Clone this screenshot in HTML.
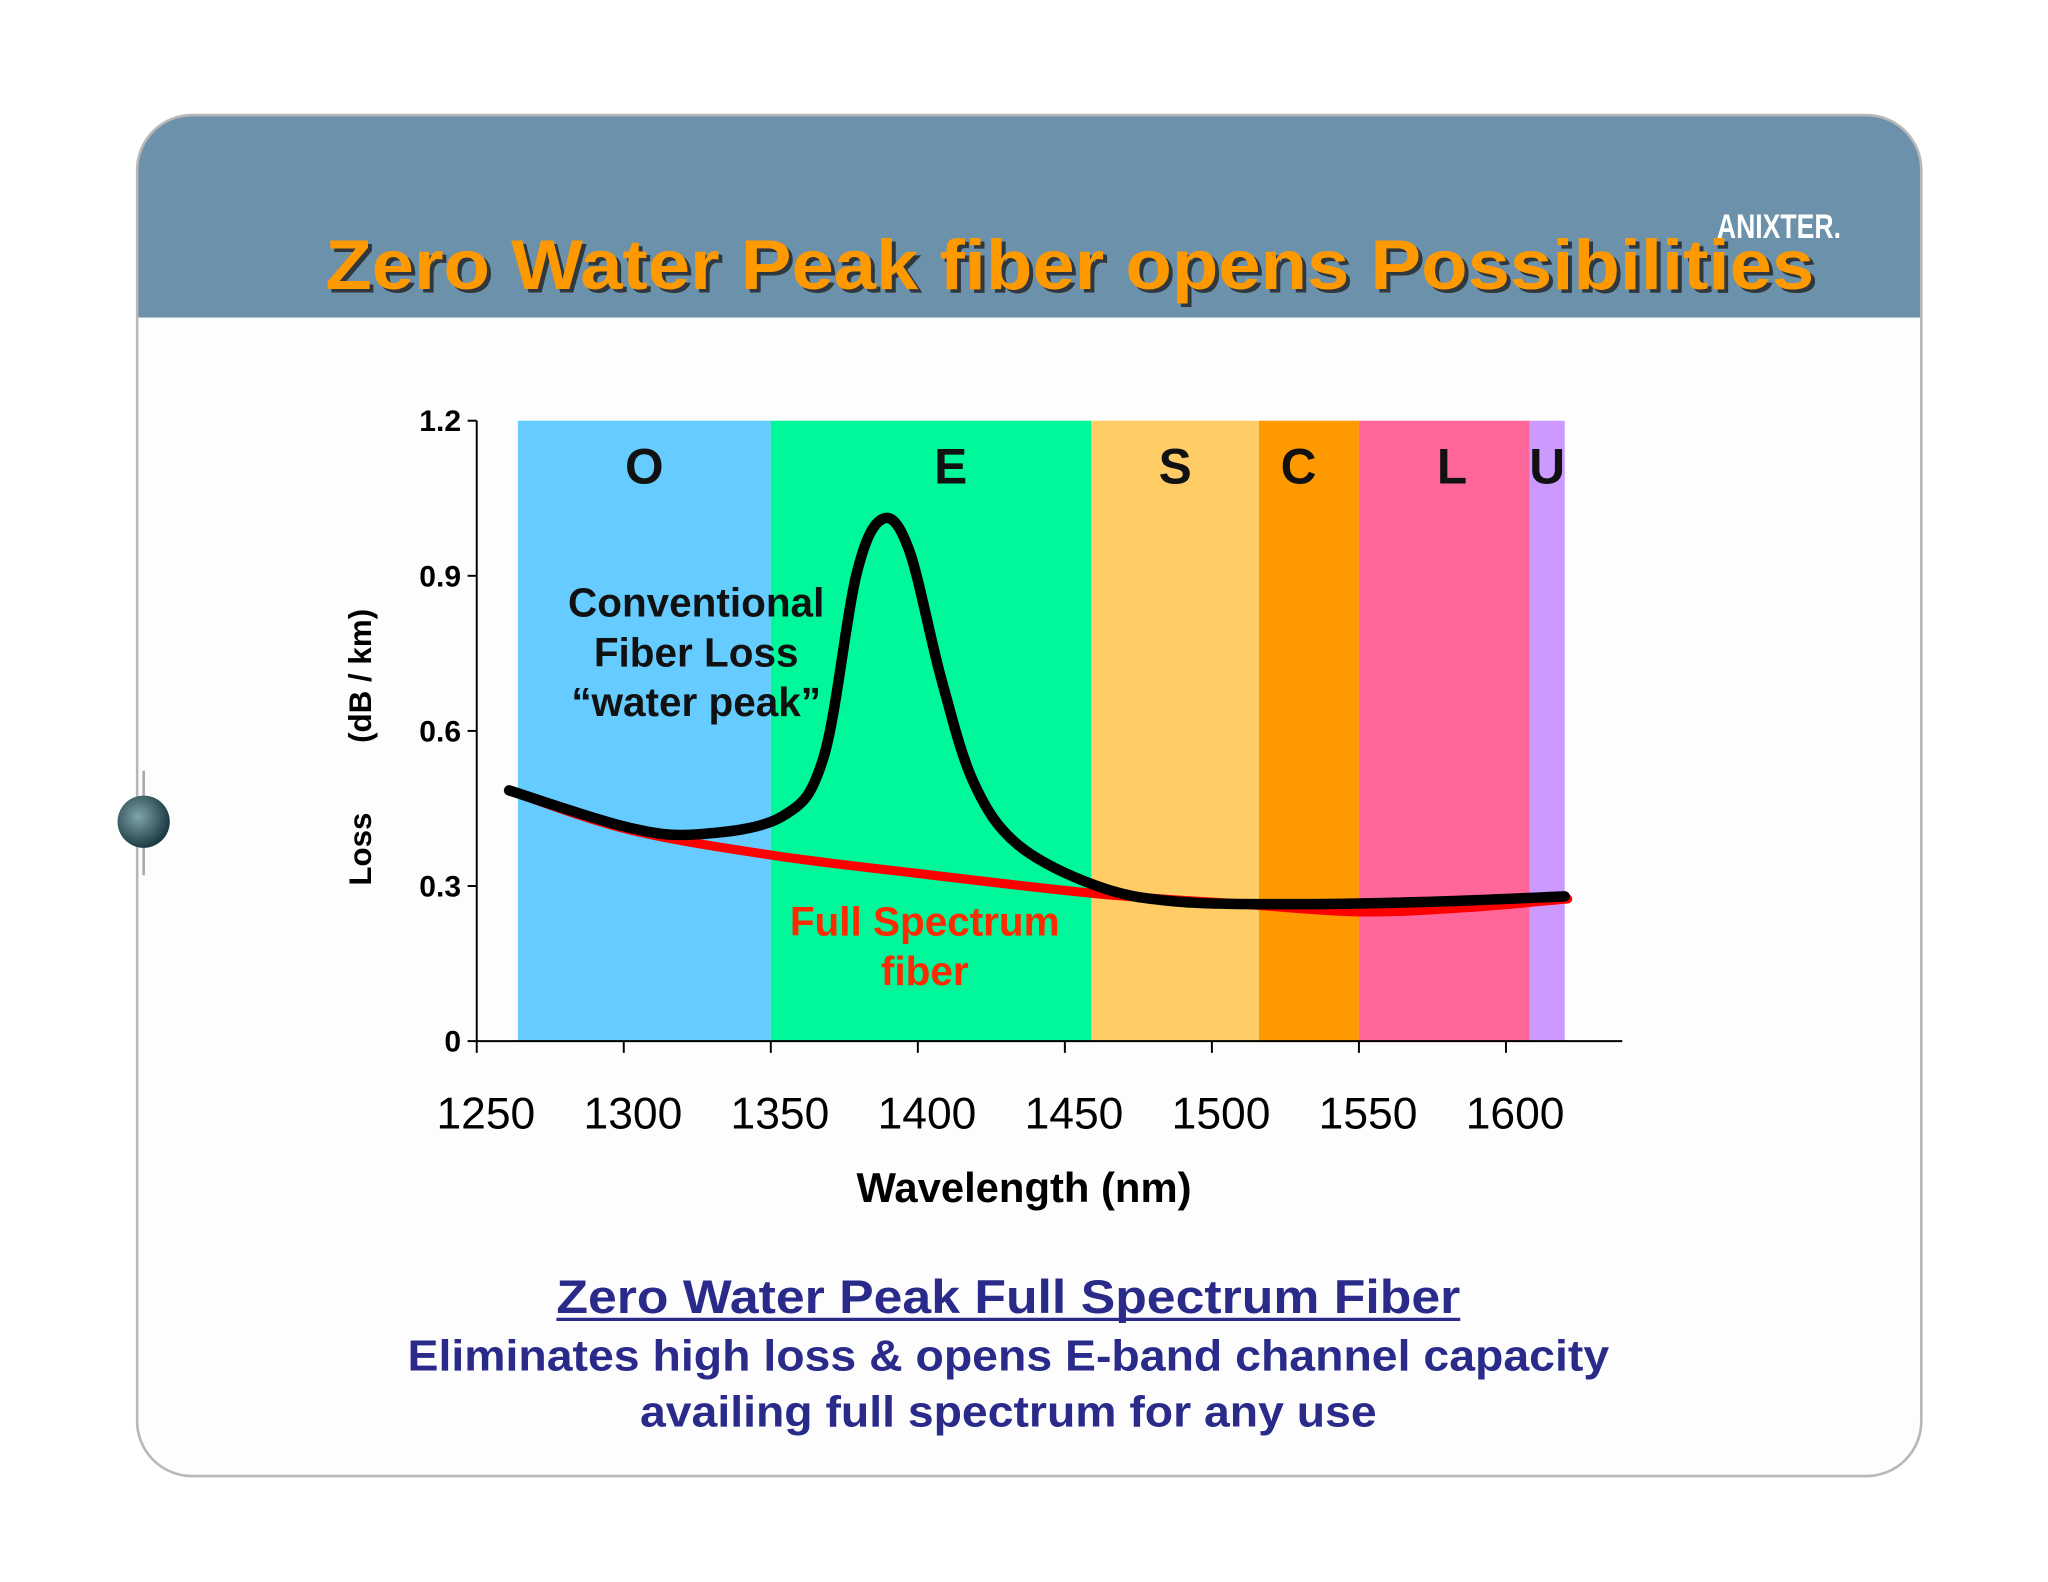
<!DOCTYPE html>
<html><head><meta charset="utf-8"><style>html,body{margin:0;padding:0;background:#fff}svg{display:block}</style></head>
<body>
<svg width="2048" height="1582" viewBox="0 0 1568 1211" xmlns="http://www.w3.org/2000/svg" font-family="Liberation Sans, sans-serif">
<defs><clipPath id="card"><rect x="105" y="88" width="1366" height="1042" rx="42"/></clipPath>
<radialGradient id="globe" cx="0.4" cy="0.4" r="0.6"><stop offset="0" stop-color="#7fa6a8"/><stop offset="1" stop-color="#1d3b44"/></radialGradient></defs>
<rect width="1568" height="1211" fill="#ffffff"/>
<g clip-path="url(#card)">
<rect x="105" y="88" width="1366" height="1042" fill="#fdfdfd"/>
<rect x="105" y="88" width="1366" height="155" fill="#6b91ab"/>
</g>
<rect x="105" y="88" width="1366" height="1042" rx="42" fill="none" stroke="#b8b8b8" stroke-width="2"/>
<line x1="110" y1="590" x2="110" y2="670" stroke="#aaa" stroke-width="2"/>
<circle cx="110" cy="629" r="20" fill="url(#globe)"/>
<text x="1362" y="182" fill="#fff" font-size="26" font-weight="bold" text-anchor="middle" textLength="95" lengthAdjust="spacingAndGlyphs">ANIXTER.</text>
<text x="822" y="224" fill="#222" font-size="54" font-weight="bold" text-anchor="middle" textLength="1140" lengthAdjust="spacingAndGlyphs" opacity="0.8">Zero Water Peak fiber opens Possibilities</text>
<text x="819" y="221" fill="#ff9900" font-size="54" font-weight="bold" text-anchor="middle" textLength="1140" lengthAdjust="spacingAndGlyphs">Zero Water Peak fiber opens Possibilities</text>
<g id="chart"></g>
<text x="772" y="1005" fill="#2a2a8a" font-size="36" font-weight="bold" text-anchor="middle" textLength="692" lengthAdjust="spacingAndGlyphs">Zero Water Peak Full Spectrum Fiber</text>
<line x1="426" y1="1010" x2="1118" y2="1010" stroke="#2a2a8a" stroke-width="2.5"/>
<text x="772" y="1049" fill="#2a2a8a" font-size="33" font-weight="bold" text-anchor="middle" textLength="920" lengthAdjust="spacingAndGlyphs">Eliminates high loss &amp; opens E-band channel capacity</text>
<text x="772" y="1092" fill="#2a2a8a" font-size="33" font-weight="bold" text-anchor="middle" textLength="564" lengthAdjust="spacingAndGlyphs">availing full spectrum for any use</text>
</svg>
<script>
const bandNames=["O","E","S","C","L","U"];
const bandStart=[1264,1350,1459,1516,1550,1608];
const bandEnd=[1350,1459,1516,1550,1608,1620];
const bandColors=["#66ccff","#00f79a","#ffcc66","#ff9900","#ff6699","#cc99ff"];
const xTicks=[1250,1300,1350,1400,1450,1500,1550,1600];
const yTicks=[0,0.3,0.6,0.9,1.2];
const yTickLabels=["0","0.3","0.6","0.9","1.2"];
const convWl=[1261,1301,1325,1354,1368,1379,1388,1397,1408,1419,1434,1461,1488,1532,1577,1620];
const convLoss=[0.485,0.414,0.40,0.435,0.55,0.90,1.01,0.95,0.70,0.50,0.38,0.30,0.27,0.265,0.27,0.28];
const fullWl=[1261,1301,1350,1399,1461,1510,1550,1586,1621];
const fullLoss=[0.485,0.41,0.36,0.325,0.285,0.265,0.25,0.258,0.275];
const NS="http://www.w3.org/2000/svg";
const g=document.getElementById('chart');
const X=v=>365+(v-1250)*(788/350);
const Y=v=>797-v*(475/1.2);
function mk(tag,attrs,parent){const e=document.createElementNS(NS,tag);for(const k in attrs)e.setAttribute(k,attrs[k]);(parent||g).appendChild(e);return e;}
bandNames.forEach((n,i)=>{
 const r=mk('rect',{x:X(bandStart[i]),y:Y(1.2),width:X(bandEnd[i])-X(bandStart[i]),height:Y(0)-Y(1.2),fill:bandColors[i]});
 
 
});
const labelShift=[0,15,0,-8,6,0];
bandNames.forEach((n,i)=>{
 const cx=(X(bandStart[i])+X(bandEnd[i]))/2+labelShift[i];
 const t=mk('text',{x:cx,y:370,'font-size':38,'font-weight':'bold','text-anchor':'middle',fill:'#111'});t.textContent=n;
 
 
});
mk('line',{x1:365,y1:Y(1.2),x2:365,y2:Y(0),stroke:'#000','stroke-width':1.5});
mk('line',{x1:365,y1:Y(0),x2:1242,y2:Y(0),stroke:'#000','stroke-width':1.5});
yTicks.forEach((v,i)=>{
 mk('line',{x1:358,y1:Y(v),x2:365,y2:Y(v),stroke:'#000','stroke-width':1.5});
 const t=mk('text',{x:353,y:Y(v)+8,'font-size':23,'font-weight':'bold','text-anchor':'end'});t.textContent=yTickLabels[i];
 
 
});
xTicks.forEach(v=>{
 mk('line',{x1:X(v),y1:Y(0),x2:X(v),y2:Y(0)+9,stroke:'#000','stroke-width':1.5});
 const t=mk('text',{x:X(v)+7,y:864,'font-size':34,'text-anchor':'middle'});t.textContent=v;
 
 
});
function smooth(xs,ys){const p=xs.map((x,i)=>[X(x),Y(ys[i])]);let d='M'+p[0].join(',');
 for(let i=0;i<p.length-1;i++){const p0=p[i-1]||p[i],p1=p[i],p2=p[i+1],p3=p[i+2]||p2;
 d+=' C'+(p1[0]+(p2[0]-p0[0])/6)+','+(p1[1]+(p2[1]-p0[1])/6)+' '+(p2[0]-(p3[0]-p1[0])/6)+','+(p2[1]-(p3[1]-p1[1])/6)+' '+p2[0]+','+p2[1];}return d;}
const red=mk('path',{d:smooth(fullWl,fullLoss),fill:'none',stroke:'#ff0000','stroke-width':7,'stroke-linecap':'round'});


const blk=mk('path',{d:smooth(convWl,convLoss),fill:'none',stroke:'#000','stroke-width':8,'stroke-linecap':'round'});


[["Conventional",472],["Fiber Loss",510],["\u201cwater peak\u201d",548]].forEach(a=>{const t=mk('text',{x:533,y:a[1],'font-size':31,'font-weight':'bold','text-anchor':'middle',fill:'#111'});t.textContent=a[0];
 
 });
[["Full Spectrum",716],["fiber",754]].forEach(a=>{const t=mk('text',{x:708,y:a[1],'font-size':31,'font-weight':'bold','text-anchor':'middle',fill:'#ff2a00'});t.textContent=a[0];
 
 });
const xt=mk('text',{x:784,y:920,'font-size':32,'font-weight':'bold','text-anchor':'middle'});xt.textContent='Wavelength (nm)';


const yt=mk('text',{x:0,y:0,'font-size':24,'font-weight':'bold','text-anchor':'middle',transform:'translate(284,572) rotate(-90)'});yt.textContent='Loss        (dB / km)';


yt.setAttribute('xml:space','preserve');yt.style.whiteSpace='pre';
</script>
</body></html>
